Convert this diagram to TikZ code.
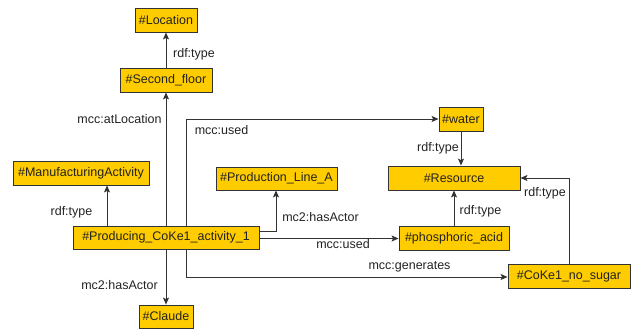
\documentclass[tikz,border=0pt]{standalone}
\usepackage{fontspec}
\setmainfont{Liberation Sans}
\usetikzlibrary{arrows.meta}
\definecolor{boxfill}{RGB}{255,204,0}
\definecolor{boxline}{RGB}{51,51,51}
\definecolor{txt}{RGB}{34,34,34}
\tikzset{
  box/.style={draw=boxline, fill=boxfill, line width=0.9pt, minimum height=24pt, inner sep=0pt, text=txt, font=\fontsize{12.5}{14}\selectfont},
  lbl/.style={text=txt, inner sep=0pt, font=\fontsize{12.5}{14}\selectfont},
  edge/.style={draw=boxline, line width=0.9pt, -{Stealth[length=7pt,width=6pt,inset=1.5pt]}}
}
\begin{document}
\begin{tikzpicture}[x=1pt,y=-1pt]
\useasboundingbox (0,0) rectangle (632,329);
\node[box, minimum width=62pt] (loc) at (166,20) {\#Location};
\node[box, minimum width=92pt] (sf) at (166,80) {\#Second\_floor};
\node[box, minimum width=136pt] (ma) at (81,173) {\#ManufacturingActivity};
\node[box, minimum width=186pt, minimum height=23pt] (prod) at (166,237.5) {\#Producing\_CoKe1\_activity\_1};
\node[box, minimum width=54pt, minimum height=23pt] (cl) at (166,316.5) {\#Claude};
\node[box, minimum width=121pt, minimum height=23pt] (pla) at (276.5,178.5) {\#Production\_Line\_A};
\node[box, minimum width=44pt] (wa) at (461,119) {\#water};
\node[box, minimum width=132pt] (res) at (454,178) {\#Resource};
\node[box, minimum width=110pt] (ph) at (454,238.5) {\#phosphoric\_acid};
\node[box, minimum width=122pt] (co) at (569,276) {\#CoKe1\_no\_sugar};

\coordinate (uw) at (186,119);
\coordinate (ug) at (186,277);
\coordinate (pa) at (276,231);

\draw[edge] (sf) -- (loc);
\draw[edge] (prod) -- (sf);
\draw[edge] (prod.north -| ma.south) ++(26,0) coordinate (pm) -- (pm |- ma.south);
\draw[edge] (prod) -- (cl);
\draw[edge] (prod.east |- pa) -| (pla.south -| pa);
\draw[edge] (prod.east |- ph.west) -- (ph.west);
\draw[edge] (prod.north -| uw) -- (uw) -- (wa.west);
\draw[edge] (prod.south -| ug) -- (ug) -- (co.west |- ug);
\draw[edge] (wa) -- (wa.south |- res.north);
\draw[edge] (ph) -- (res);
\draw[edge] (co.north) |- (res.east);

\node[lbl] at (194,54) {rdf:type};
\node[lbl] at (119.5,119) {mcc:atLocation};
\node[lbl] at (221.5,130) {mcc:used};
\node[lbl] at (71.5,212) {rdf:type};
\node[lbl] at (119.5,285) {mc2:hasActor};
\node[lbl] at (320.5,217) {mc2:hasActor};
\node[lbl] at (343,244) {mcc:used};
\node[lbl] at (409.5,267) {mcc:generates};
\node[lbl] at (438,148) {rdf:type};
\node[lbl] at (480.5,211) {rdf:type};
\node[lbl] at (545,193) {rdf:type};
\end{tikzpicture}
\end{document}
